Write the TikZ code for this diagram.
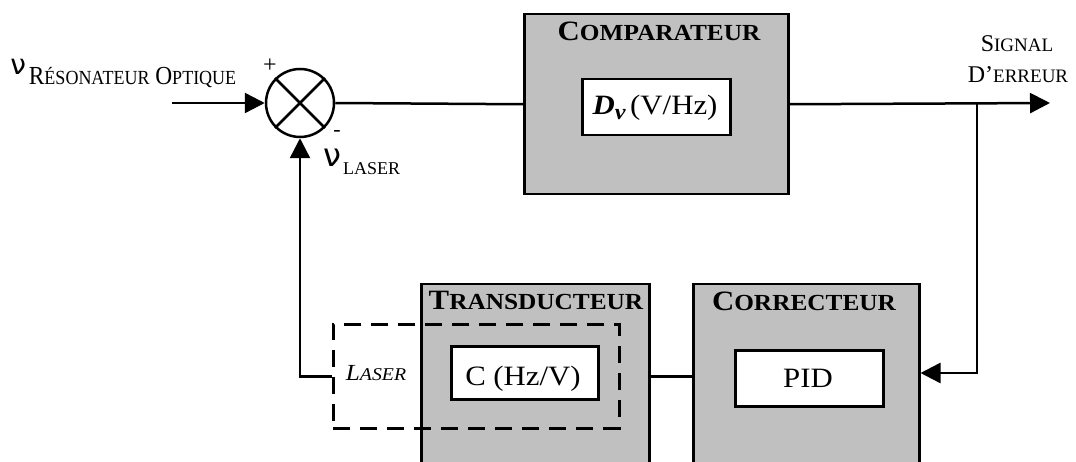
\documentclass[tikz,border=0pt]{standalone}
\usepackage{fontspec}
\setmainfont{Liberation Serif}
\newfontfamily\wide{Liberation Serif}[FakeStretch=1.1]
\newfontfamily\narrow{Liberation Serif}[FakeStretch=0.9]
\newfontfamily\nufont{DejaVu Sans}
\usetikzlibrary{arrows.meta}
\newcommand\fs[1]{\fontsize{#1}{#1}\selectfont}
\definecolor{boxgray}{HTML}{C0C0C0}
\begin{document}
\begin{tikzpicture}[x=1pt,y=-1pt, line width=2.5pt,
  box/.style={draw, fill=boxgray, anchor=north west, inner sep=0pt},
  inbox/.style={draw, fill=white, anchor=north west, inner sep=0pt},
  ttl/.style={anchor=base, inner sep=0pt, font=\wide\bfseries\fs{28}},
  txt/.style={anchor=base, inner sep=0pt, font=\wide\fs{28}},
  arr/.style={-{Triangle[length=20pt,width=20pt]}},
]
\useasboundingbox (0,0) rectangle (1076,462);
\clip (0,0) rectangle (1076,462);

% summing junction
\node[circle, draw, minimum size=68pt, inner sep=0pt] (sum) at (300,103) {};
\draw (sum.north west) -- (sum.south east);
\draw (sum.north east) -- (sum.south west);
\node[inner sep=0pt, font=\fs{24}] (plus) at (270,66) {+};
\node[inner sep=0pt, font=\fs{22}] (minus) at (337,133) {-};

% comparator
\node[box, minimum width=264pt, minimum height=180pt] (comp) at (523,13) {};
\node[ttl] (compT) at (659,41) {C{\fs{23}OMPARATEUR}};
\node[inbox, minimum width=148pt, minimum height=56pt] (compI) at (581,78) {};
\node[txt] (compX) at (655,115) {{\bfseries\itshape D}\raisebox{-5pt}{\fs{22}\bfseries\itshape ν}\,(V/Hz)};

% transducteur
\node[box, minimum width=228pt, minimum height=200pt] (trans) at (420,283) {};
\node[ttl] (transT) at (536,309) {T{\fs{23}RANSDUCTEUR}};
\node[draw, dash pattern=on 17pt off 10pt, anchor=north west, inner sep=0pt,
      minimum width=286pt, minimum height=104pt] (las) at (332,323) {};
\node[anchor=base, inner sep=0pt, font=\wide\itshape\fs{23}] (lasT) at (376,380) {L{\fs{18}ASER}};
\node[inbox, minimum width=147pt, minimum height=53pt] (transI) at (450,345) {};
\node[txt] (transX) at (523,385) {C (Hz/V)};

% correcteur
\node[box, minimum width=226pt, minimum height=200pt] (corr) at (692,283) {};
\node[ttl] (corrT) at (804,310) {C{\fs{23}ORRECTEUR}};
\node[inbox, minimum width=148pt, minimum height=56pt] (corrI) at (734,349) {};
\node[txt] (corrX) at (808,387) {PID};

% labels
\node[anchor=base west, inner sep=0pt, font=\narrow\fs{26}] (nuR) at (9,85)
  {\raisebox{10pt}{\nufont\fs{28}ν}\hspace{3pt}R{\fs{20}ÉSONATEUR} O{\fs{20}PTIQUE}};
\node[anchor=base west, inner sep=0pt, font=\fs{18}] (nuL) at (322,175)
  {\raisebox{8pt}{\nufont\fs{32}ν}\hspace{2pt}LASER};
\node[anchor=base, inner sep=0pt, font=\fs{24}] (sig1) at (1017,52) {S{\fs{19}IGNAL}};
\node[anchor=base, inner sep=0pt, font=\fs{24}] (sig2) at (1018,83) {D’{\fs{19}ERREUR}};

% connectors
\coordinate (in) at (172,103);
\coordinate (out) at (1050,103);
\coordinate (br) at (977,103);
\coordinate (c1) at (977,373);
\draw[arr] (in) -- (sum.west);
\draw (sum.east) -- (comp.west);
\draw[arr] (comp.east) -- (out);
\draw[arr] (br) |- (corr.east |- c1);
\draw (trans.east |- las.west) -- (corr.west |- las.west);
\draw[arr] (las.west) -| (sum.south);
\end{tikzpicture}
\end{document}
